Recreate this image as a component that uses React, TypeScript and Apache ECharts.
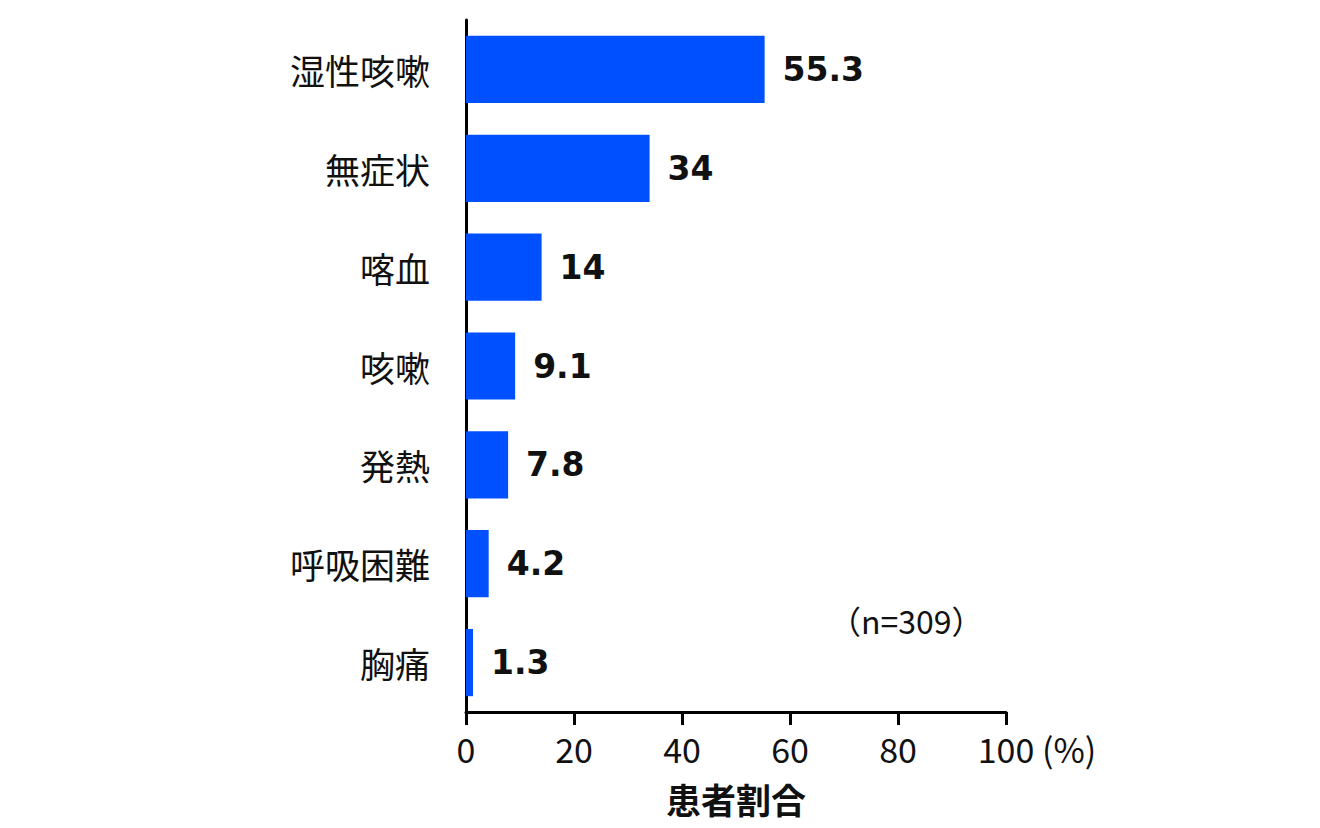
import { useEffect, useRef } from 'react'
import * as echarts from 'echarts'

const categories = ['湿性咳嗽', '無症状', '喀血', '咳嗽', '発熱', '呼吸困難', '胸痛']
const values = [55.3, 34, 14, 9.1, 7.8, 4.2, 1.3]
const xTicks = [0, 20, 40, 60, 80, 100]

const JP = '"Noto Sans CJK JP", "Noto Sans", sans-serif'

export default function App() {
  const chartRef = useRef<HTMLDivElement>(null)

  useEffect(() => {
    if (!chartRef.current) return
    const chart = echarts.init(chartRef.current, null, { renderer: 'svg' })

    const option = {
      animation: false,
      grid: { left: 458, right: 306, top: 12, bottom: 116 },
      xAxis: {
        type: 'value',
        min: xTicks[0],
        max: xTicks[xTicks.length - 1],
        interval: 20,
        name: '患者割合',
        nameLocation: 'middle',
        nameGap: 69,
        nameTextStyle: { fontFamily: JP, fontSize: 35, fontWeight: 'bold', color: '#111', lineHeight: 35 },
        splitLine: { show: false },
        axisLine: { show: true, lineStyle: { color: '#000', width: 3 } },
        axisTick: { show: true, length: 13, lineStyle: { color: '#000', width: 3 } },
        axisLabel: { fontFamily: JP, fontSize: 34, color: '#111', margin: 19 },
      },
      yAxis: {
        type: 'category',
        data: categories,
        inverse: true,
        axisLine: { show: true, lineStyle: { color: '#000', width: 3 } },
        axisTick: { show: false },
        axisLabel: { fontFamily: JP, fontSize: 35, color: '#111', margin: 36 },
      },
      series: [
        {
          type: 'bar',
          data: values,
          barWidth: '68%',
          itemStyle: { color: '#0050ff' },
          label: {
            show: true,
            position: 'right',
            distance: 18,
            fontFamily: '"DejaVu Sans", sans-serif',
            fontWeight: 'bold',
            fontSize: 33,
            color: '#111',
          },
        },
      ],
      graphic: [
        {
          type: 'text',
          x: 1034,
          y: 740,
          style: { text: '(%)', fontFamily: JP, fontSize: 34, fill: '#111', verticalAlign: 'middle' },
        },
        {
          type: 'text',
          x: 821,
          y: 612,
          style: { text: '（n=309）', fontFamily: JP, fontSize: 32, fill: '#111', verticalAlign: 'middle' },
        },
      ],
    }

    chart.setOption(option)
    return () => {
      chart.dispose()
    }
  }, [])

  return <div ref={chartRef} style={{ width: 1304, height: 820 }} />
}
